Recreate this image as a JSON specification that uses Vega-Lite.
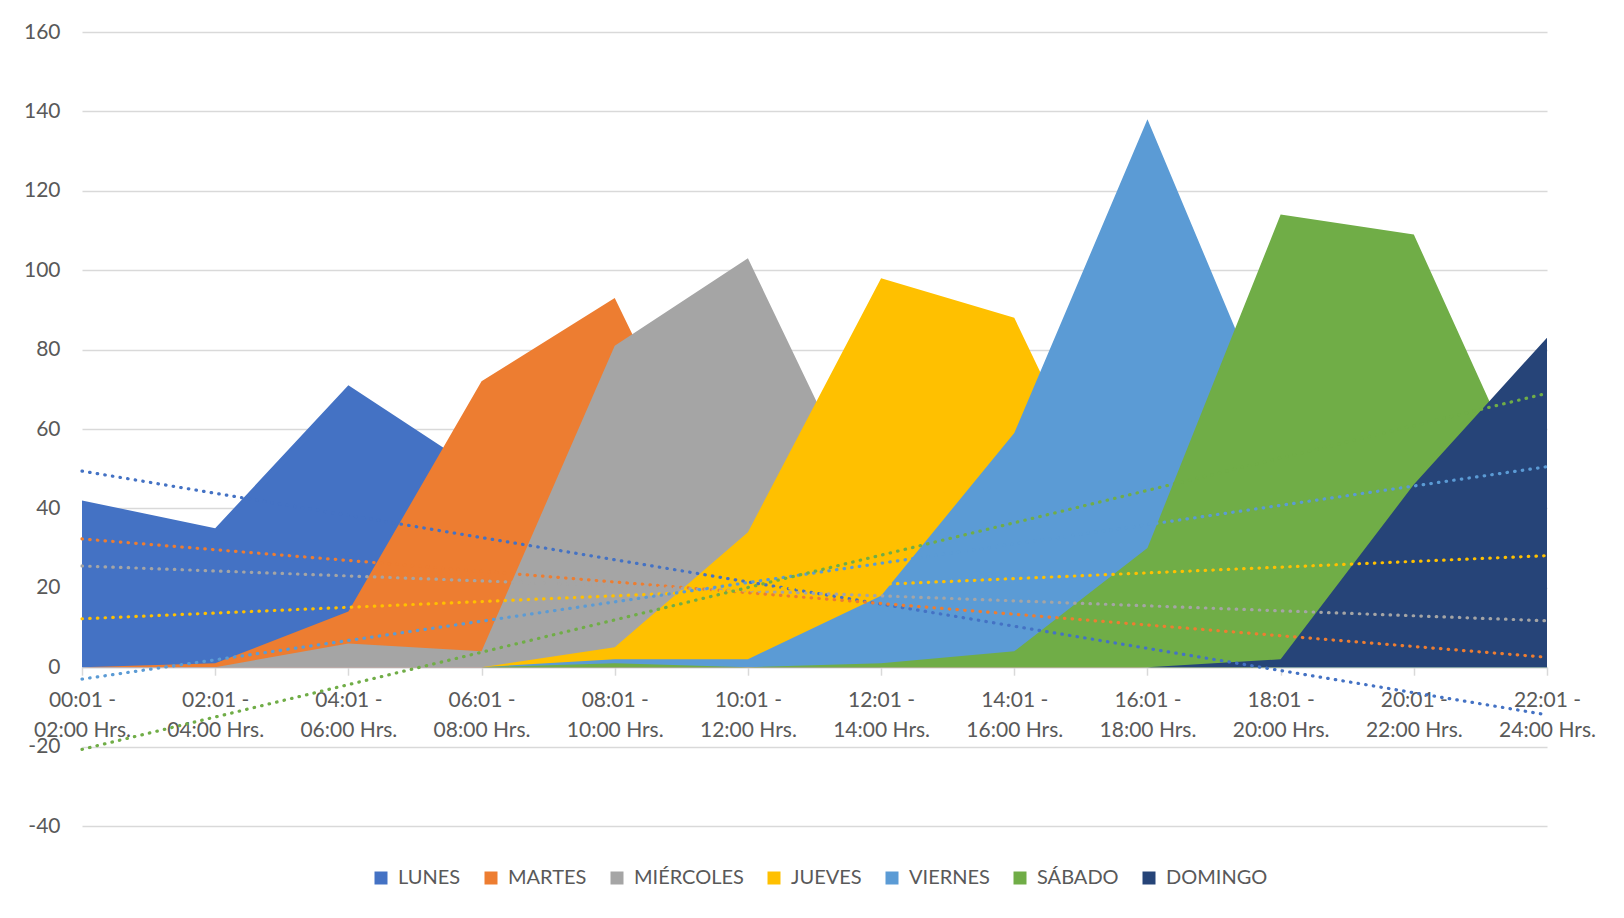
{
  "$schema": "https://vega.github.io/schema/vega-lite/v6.json",
  "autosize": "none",
  "width": 1465,
  "height": 794,
  "padding": {"left": 82, "top": 32, "right": 77, "bottom": 92},
  "background": "white",
  "config": {"view": {"stroke": null}, "font": "Lato"},
  "datasets": {
    "values": [
      {"series": "LUNES", "slot": "00:01 - 02:00 Hrs.", "value": 42},
      {"series": "LUNES", "slot": "02:01 - 04:00 Hrs.", "value": 35},
      {"series": "LUNES", "slot": "04:01 - 06:00 Hrs.", "value": 71},
      {"series": "LUNES", "slot": "06:01 - 08:00 Hrs.", "value": 49},
      {"series": "LUNES", "slot": "08:01 - 10:00 Hrs.", "value": 20},
      {"series": "LUNES", "slot": "10:01 - 12:00 Hrs.", "value": 8},
      {"series": "LUNES", "slot": "12:01 - 14:00 Hrs.", "value": 0},
      {"series": "LUNES", "slot": "14:01 - 16:00 Hrs.", "value": 0},
      {"series": "LUNES", "slot": "16:01 - 18:00 Hrs.", "value": 0},
      {"series": "LUNES", "slot": "18:01 - 20:00 Hrs.", "value": 0},
      {"series": "LUNES", "slot": "20:01 - 22:00 Hrs.", "value": 0},
      {"series": "LUNES", "slot": "22:01 - 24:00 Hrs.", "value": 0},
      {"series": "MARTES", "slot": "00:01 - 02:00 Hrs.", "value": 0},
      {"series": "MARTES", "slot": "02:01 - 04:00 Hrs.", "value": 1},
      {"series": "MARTES", "slot": "04:01 - 06:00 Hrs.", "value": 14},
      {"series": "MARTES", "slot": "06:01 - 08:00 Hrs.", "value": 72},
      {"series": "MARTES", "slot": "08:01 - 10:00 Hrs.", "value": 93},
      {"series": "MARTES", "slot": "10:01 - 12:00 Hrs.", "value": 24},
      {"series": "MARTES", "slot": "12:01 - 14:00 Hrs.", "value": 3},
      {"series": "MARTES", "slot": "14:01 - 16:00 Hrs.", "value": 1},
      {"series": "MARTES", "slot": "16:01 - 18:00 Hrs.", "value": 0},
      {"series": "MARTES", "slot": "18:01 - 20:00 Hrs.", "value": 0},
      {"series": "MARTES", "slot": "20:01 - 22:00 Hrs.", "value": 0},
      {"series": "MARTES", "slot": "22:01 - 24:00 Hrs.", "value": 0},
      {"series": "MIÉRCOLES", "slot": "00:01 - 02:00 Hrs.", "value": 0},
      {"series": "MIÉRCOLES", "slot": "02:01 - 04:00 Hrs.", "value": 0},
      {"series": "MIÉRCOLES", "slot": "04:01 - 06:00 Hrs.", "value": 6},
      {"series": "MIÉRCOLES", "slot": "06:01 - 08:00 Hrs.", "value": 4},
      {"series": "MIÉRCOLES", "slot": "08:01 - 10:00 Hrs.", "value": 81},
      {"series": "MIÉRCOLES", "slot": "10:01 - 12:00 Hrs.", "value": 103},
      {"series": "MIÉRCOLES", "slot": "12:01 - 14:00 Hrs.", "value": 33},
      {"series": "MIÉRCOLES", "slot": "14:01 - 16:00 Hrs.", "value": 4},
      {"series": "MIÉRCOLES", "slot": "16:01 - 18:00 Hrs.", "value": 1},
      {"series": "MIÉRCOLES", "slot": "18:01 - 20:00 Hrs.", "value": 0},
      {"series": "MIÉRCOLES", "slot": "20:01 - 22:00 Hrs.", "value": 0},
      {"series": "MIÉRCOLES", "slot": "22:01 - 24:00 Hrs.", "value": 0},
      {"series": "JUEVES", "slot": "00:01 - 02:00 Hrs.", "value": 0},
      {"series": "JUEVES", "slot": "02:01 - 04:00 Hrs.", "value": 0},
      {"series": "JUEVES", "slot": "04:01 - 06:00 Hrs.", "value": 0},
      {"series": "JUEVES", "slot": "06:01 - 08:00 Hrs.", "value": 0},
      {"series": "JUEVES", "slot": "08:01 - 10:00 Hrs.", "value": 5},
      {"series": "JUEVES", "slot": "10:01 - 12:00 Hrs.", "value": 34},
      {"series": "JUEVES", "slot": "12:01 - 14:00 Hrs.", "value": 98},
      {"series": "JUEVES", "slot": "14:01 - 16:00 Hrs.", "value": 88},
      {"series": "JUEVES", "slot": "16:01 - 18:00 Hrs.", "value": 18},
      {"series": "JUEVES", "slot": "18:01 - 20:00 Hrs.", "value": 0},
      {"series": "JUEVES", "slot": "20:01 - 22:00 Hrs.", "value": 0},
      {"series": "JUEVES", "slot": "22:01 - 24:00 Hrs.", "value": 0},
      {"series": "VIERNES", "slot": "00:01 - 02:00 Hrs.", "value": 0},
      {"series": "VIERNES", "slot": "02:01 - 04:00 Hrs.", "value": 0},
      {"series": "VIERNES", "slot": "04:01 - 06:00 Hrs.", "value": 0},
      {"series": "VIERNES", "slot": "06:01 - 08:00 Hrs.", "value": 0},
      {"series": "VIERNES", "slot": "08:01 - 10:00 Hrs.", "value": 2},
      {"series": "VIERNES", "slot": "10:01 - 12:00 Hrs.", "value": 2},
      {"series": "VIERNES", "slot": "12:01 - 14:00 Hrs.", "value": 18},
      {"series": "VIERNES", "slot": "14:01 - 16:00 Hrs.", "value": 59},
      {"series": "VIERNES", "slot": "16:01 - 18:00 Hrs.", "value": 138},
      {"series": "VIERNES", "slot": "18:01 - 20:00 Hrs.", "value": 58},
      {"series": "VIERNES", "slot": "20:01 - 22:00 Hrs.", "value": 7},
      {"series": "VIERNES", "slot": "22:01 - 24:00 Hrs.", "value": 2},
      {"series": "SÁBADO", "slot": "00:01 - 02:00 Hrs.", "value": 0},
      {"series": "SÁBADO", "slot": "02:01 - 04:00 Hrs.", "value": 0},
      {"series": "SÁBADO", "slot": "04:01 - 06:00 Hrs.", "value": 0},
      {"series": "SÁBADO", "slot": "06:01 - 08:00 Hrs.", "value": 0},
      {"series": "SÁBADO", "slot": "08:01 - 10:00 Hrs.", "value": 1},
      {"series": "SÁBADO", "slot": "10:01 - 12:00 Hrs.", "value": 0},
      {"series": "SÁBADO", "slot": "12:01 - 14:00 Hrs.", "value": 1},
      {"series": "SÁBADO", "slot": "14:01 - 16:00 Hrs.", "value": 4},
      {"series": "SÁBADO", "slot": "16:01 - 18:00 Hrs.", "value": 30},
      {"series": "SÁBADO", "slot": "18:01 - 20:00 Hrs.", "value": 114},
      {"series": "SÁBADO", "slot": "20:01 - 22:00 Hrs.", "value": 109},
      {"series": "SÁBADO", "slot": "22:01 - 24:00 Hrs.", "value": 35},
      {"series": "DOMINGO", "slot": "00:01 - 02:00 Hrs.", "value": 0},
      {"series": "DOMINGO", "slot": "02:01 - 04:00 Hrs.", "value": 0},
      {"series": "DOMINGO", "slot": "04:01 - 06:00 Hrs.", "value": 0},
      {"series": "DOMINGO", "slot": "06:01 - 08:00 Hrs.", "value": 0},
      {"series": "DOMINGO", "slot": "08:01 - 10:00 Hrs.", "value": 0},
      {"series": "DOMINGO", "slot": "10:01 - 12:00 Hrs.", "value": 0},
      {"series": "DOMINGO", "slot": "12:01 - 14:00 Hrs.", "value": 0},
      {"series": "DOMINGO", "slot": "14:01 - 16:00 Hrs.", "value": 0},
      {"series": "DOMINGO", "slot": "16:01 - 18:00 Hrs.", "value": 0},
      {"series": "DOMINGO", "slot": "18:01 - 20:00 Hrs.", "value": 2},
      {"series": "DOMINGO", "slot": "20:01 - 22:00 Hrs.", "value": 46},
      {"series": "DOMINGO", "slot": "22:01 - 24:00 Hrs.", "value": 83}
    ],
    "trends": [
      {"series": "LUNES", "slot": "00:01 - 02:00 Hrs.", "trend": 49.4},
      {"series": "LUNES", "slot": "22:01 - 24:00 Hrs.", "trend": -12.0},
      {"series": "MARTES", "slot": "00:01 - 02:00 Hrs.", "trend": 32.3},
      {"series": "MARTES", "slot": "22:01 - 24:00 Hrs.", "trend": 2.5},
      {"series": "MIÉRCOLES", "slot": "00:01 - 02:00 Hrs.", "trend": 25.5},
      {"series": "MIÉRCOLES", "slot": "22:01 - 24:00 Hrs.", "trend": 11.7},
      {"series": "JUEVES", "slot": "00:01 - 02:00 Hrs.", "trend": 12.2},
      {"series": "JUEVES", "slot": "22:01 - 24:00 Hrs.", "trend": 28.1},
      {"series": "VIERNES", "slot": "00:01 - 02:00 Hrs.", "trend": -3.0},
      {"series": "VIERNES", "slot": "22:01 - 24:00 Hrs.", "trend": 50.5},
      {"series": "SÁBADO", "slot": "00:01 - 02:00 Hrs.", "trend": -20.7},
      {"series": "SÁBADO", "slot": "22:01 - 24:00 Hrs.", "trend": 69.0}
    ]
  },
  "layer": [
    {
      "data": {"name": "values"},
      "mark": {"type": "area", "opacity": 1, "interpolate": "linear"},
      "encoding": {
        "x": {
          "field": "slot", "type": "ordinal", "sort": null,
          "scale": {"type": "point", "padding": 0, "domain": ["00:01 - 02:00 Hrs.", "02:01 - 04:00 Hrs.", "04:01 - 06:00 Hrs.", "06:01 - 08:00 Hrs.", "08:01 - 10:00 Hrs.", "10:01 - 12:00 Hrs.", "12:01 - 14:00 Hrs.", "14:01 - 16:00 Hrs.", "16:01 - 18:00 Hrs.", "18:01 - 20:00 Hrs.", "20:01 - 22:00 Hrs.", "22:01 - 24:00 Hrs."]},
          "axis": {
            "title": null, "labelAngle": 0, "labelFont": "Lato", "labelFontSize": 21, "labelColor": "#595959",
            "labelExpr": "[substring(datum.value, 0, 7), substring(datum.value, 8)]",
            "labelLineHeight": 30, "labelOverlap": false, "offset": -158.8,
            "domainColor": "#D9D9D9", "domainWidth": 1.5, "tickColor": "#D9D9D9", "tickWidth": 1.5, "tickSize": 8,
            "labelPadding": 14, "grid": false
          }
        },
        "y": {
          "field": "value", "type": "quantitative", "stack": null,
          "scale": {"domain": [-40, 160], "nice": false, "zero": false},
          "axis": {
            "title": null, "values": [-40, -20, 0, 20, 40, 60, 80, 100, 120, 140, 160],
            "labelExpr": "'' + datum.value",
            "domain": false, "ticks": false, "labelFont": "Lato", "labelFontSize": 21, "labelColor": "#595959",
            "labelPadding": 22, "gridColor": "#D9D9D9", "gridWidth": 1.5
          }
        },
        "color": {
          "field": "series", "type": "nominal", "sort": null,
          "scale": {"domain": ["LUNES", "MARTES", "MIÉRCOLES", "JUEVES", "VIERNES", "SÁBADO", "DOMINGO"], "range": ["#4472C4", "#ED7D31", "#A5A5A5", "#FFC000", "#5B9BD5", "#70AD47", "#264478"]},
          "legend": {
            "title": null, "orient": "none", "direction": "horizontal", "legendX": 289, "legendY": 836,
            "symbolType": "square", "symbolSize": 169, "symbolStrokeWidth": 0, "symbolOpacity": 1,
            "labelFont": "Lato", "labelFontSize": 20, "labelColor": "#595959", "labelOffset": 7,
            "columnPadding": 20, "padding": 0
          }
        }
      }
    },
    {
      "data": {"name": "trends"},
      "mark": {"type": "line", "strokeWidth": 3.2, "strokeDash": [0.5, 7.2], "strokeCap": "round"},
      "encoding": {
        "x": {"field": "slot", "type": "ordinal", "sort": null},
        "y": {"field": "trend", "type": "quantitative"},
        "stroke": {
          "field": "series", "type": "nominal", "sort": null,
          "scale": {"domain": ["LUNES", "MARTES", "MIÉRCOLES", "JUEVES", "VIERNES", "SÁBADO"], "range": ["#4472C4", "#ED7D31", "#A5A5A5", "#FFC000", "#5B9BD5", "#70AD47"]},
          "legend": null
        }
      }
    }
  ]
}
